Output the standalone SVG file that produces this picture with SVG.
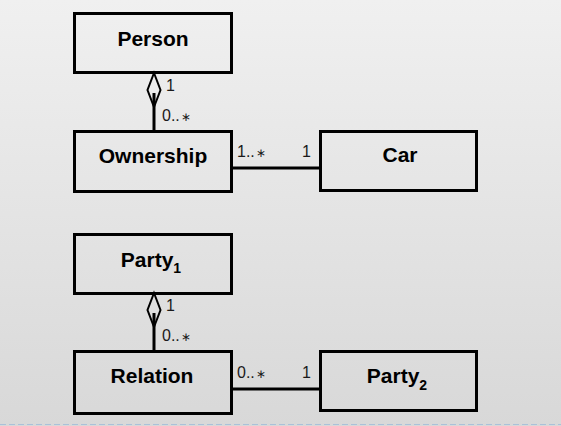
<svg xmlns="http://www.w3.org/2000/svg" width="561" height="426" viewBox="0 0 561 426">
<defs>
<linearGradient id="bg" x1="0" y1="0" x2="0" y2="1">
<stop offset="0" stop-color="#f0f0f0"/>
<stop offset="1" stop-color="#d8d8d8"/>
</linearGradient>
<style>
.box{fill:none;stroke:#000;stroke-width:3}
.name{font-family:"Liberation Sans",Arial,sans-serif;font-weight:bold;font-size:21px;fill:#000;text-anchor:middle}
.sub{font-size:14px}
.mult{font-family:"Liberation Sans",Arial,sans-serif;font-size:16px;fill:#1a1a1a}
.ast{font-family:"DejaVu Sans",sans-serif;font-size:12px}
.line{stroke:#000;stroke-width:3;fill:none}
.dia{fill:none;stroke:#000;stroke-width:2}
</style>
</defs>
<rect width="561" height="426" fill="url(#bg)"/>
<line x1="0" y1="424.5" x2="561" y2="424.5" stroke="#a9c1d9" stroke-width="1" stroke-dasharray="6,3"/>

<g id="connectors">
<polygon class="dia" points="154,73 160.5,90 154,107 147.5,90"/>
<line class="line" x1="154" y1="93" x2="154" y2="130" stroke-width="4"/>
<text class="mult" x="166" y="91">1</text>
<text class="mult" x="162" y="121">0..<tspan class="ast" dx="1">∗</tspan></text>
<line class="line" x1="233" y1="168" x2="320" y2="168"/>
<text class="mult" x="237" y="157">1..<tspan class="ast" dx="1">∗</tspan></text>
<text class="mult" x="302" y="157">1</text>

<polygon class="dia" points="154,293 160.5,310 154,327 147.5,310"/>
<line class="line" x1="154" y1="313" x2="154" y2="350" stroke-width="4"/>
<text class="mult" x="166" y="311">1</text>
<text class="mult" x="162" y="341">0..<tspan class="ast" dx="1">∗</tspan></text>
<line class="line" x1="233" y1="389" x2="320" y2="389"/>
<text class="mult" x="237" y="378">0..<tspan class="ast" dx="1">∗</tspan></text>
<text class="mult" x="302" y="378">1</text>
</g>

<g id="person">
<rect class="box" x="74.5" y="13.5" width="157" height="59"/>
<text class="name" x="153" y="46">Person</text>
</g>
<g id="ownership">
<rect class="box" x="74.5" y="131.5" width="157" height="60"/>
<text class="name" x="153" y="163">Ownership</text>
</g>
<g id="car">
<rect class="box" x="320.5" y="131.5" width="156" height="59"/>
<text class="name" x="400" y="162">Car</text>
</g>
<g id="party1">
<rect class="box" x="74.5" y="234.5" width="157" height="59"/>
<text class="name" x="151" y="267">Party<tspan class="sub" dy="6">1</tspan></text>
</g>
<g id="relation">
<rect class="box" x="74.5" y="351.5" width="157" height="62"/>
<text class="name" x="152" y="383">Relation</text>
</g>
<g id="party2">
<rect class="box" x="320.5" y="351.5" width="156" height="59"/>
<text class="name" x="397" y="383">Party<tspan class="sub" dy="7">2</tspan></text>
</g>
</svg>
